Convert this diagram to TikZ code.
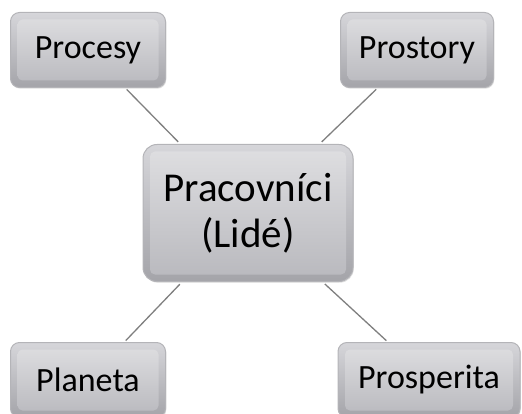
\documentclass[tikz,border=0pt]{standalone}
\usepackage{fontspec}
\setmainfont{Carlito}
\usetikzlibrary{shadows, calc}
\definecolor{facegray}{HTML}{CACACE}
\definecolor{facedark}{HTML}{B8B8BD}
\definecolor{rimlight}{HTML}{D6D6DA}
\definecolor{rimdark}{HTML}{A4A4A9}
\definecolor{edgegray}{HTML}{B4B4B8}
\definecolor{linkgray}{HTML}{7F7F7F}

\begin{document}
\begin{tikzpicture}[
    x=1pt, y=-1pt,
    box/.style={rounded corners=9pt, draw=edgegray, line width=1pt,
        top color=rimlight, bottom color=rimdark,
        drop shadow={shadow xshift=0.8pt, shadow yshift=-1.2pt, opacity=0.25},
        path picture={
            \shade[top color=facegray!60!white, bottom color=facedark, rounded corners=5pt]
                ($(path picture bounding box.south west)+(7pt,7pt)$) rectangle
                ($(path picture bounding box.north east)+(-7pt,-7pt)$);
        },
        minimum width=155pt, minimum height=75pt, inner sep=2pt,
        font=\fontsize{34}{40}\selectfont, align=center},
    hub/.style={box, minimum width=210pt, minimum height=137pt,
        rounded corners=14pt, font=\fontsize{41}{46}\selectfont},
    link/.style={draw=linkgray, line width=1.3pt},
]
\useasboundingbox (0,0) rectangle (522,414);

% Center
\node[hub] (lide) at (248,213) {Pracovníci\\(Lidé)};

% Corner boxes
\node[box] (procesy) at (88,50) {Procesy};
\node[box, minimum width=153pt] (prostory) at (417,50) {Prostory};
\node[box] (planeta) at (88,380) {Planeta};
\node[box, minimum width=182pt] (prosperita) at (429,380) {Prosperita};

% Links
\foreach \b in {procesy, prostory, planeta, prosperita} {
    \draw[link, shorten <=2pt, shorten >=3pt] (\b) -- (lide);
}

\end{tikzpicture}
\end{document}
